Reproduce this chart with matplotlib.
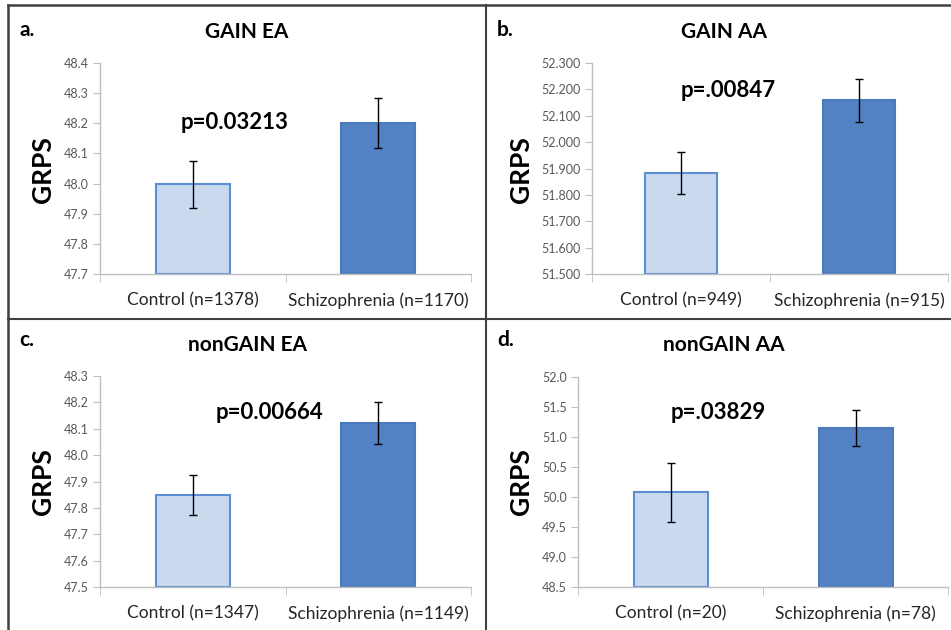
import matplotlib
matplotlib.use("Agg")
import matplotlib.pyplot as plt
from matplotlib.lines import Line2D

plt.rcParams['font.family'] = ['Lato', 'DejaVu Sans']

# -- Data --
panel_labels = ["a.", "b.", "c.", "d."]
titles = ["GAIN EA", "GAIN AA", "nonGAIN EA", "nonGAIN AA"]
control_n = [1378, 949, 1347, 20]
scz_n = [1170, 915, 1149, 78]
control_mean = [47.997, 51.883, 47.848, 50.08]
control_err = [0.077, 0.079, 0.075, 0.49]
scz_mean = [48.202, 52.158, 48.122, 51.15]
scz_err = [0.083, 0.083, 0.079, 0.30]
p_values = ["p=0.03213", "p=.00847", "p=0.00664", "p=.03829"]
y_min = [47.7, 51.5, 47.5, 48.5]
y_max = [48.4, 52.3, 48.3, 52.0]
y_step = [0.1, 0.1, 0.1, 0.5]
y_fmt = ["%.1f", "%.3f", "%.1f", "%.1f"]

# -- Layout (pixels) --
W, H = 951, 630
axes_px = [(100, 63, 471, 274), (592, 63, 948, 274),
           (100, 376, 471, 587), (578, 377, 948, 587)]
p_pos = [(0.364, 0.716), (0.382, 0.872), (0.458, 0.825), (0.378, 0.833)]
title_px = [(247, 32), (724, 32), (247, 345), (724, 345)]
label_px = [(19, 30), (497, 30), (19, 340), (497, 340)]
ylabel_px = [(43, 170), (521, 170), (43, 482), (521, 482)]

light_fill = "#C9D9EE"
light_edge = "#5B8ED4"
dark_fill = "#5282C4"
dark_edge = "#4A7BBD"
grid_gray = "#BFBFBF"

fig = plt.figure(figsize=(W / 100, H / 100), dpi=100)


def fx(x):
    return x / W


def fy(y):
    return 1 - y / H


for i in range(4):
    x0, y0, x1, y1 = axes_px[i]
    ax = fig.add_axes([fx(x0), fy(y1), (x1 - x0) / W, (y1 - y0) / H])
    ax.bar([0, 1], [control_mean[i] - y_min[i], scz_mean[i] - y_min[i]],
           bottom=y_min[i], width=0.4,
           color=[light_fill, dark_fill], edgecolor=[light_edge, dark_edge],
           linewidth=1.5, zorder=2)
    ax.errorbar([0, 1], [control_mean[i], scz_mean[i]],
                yerr=[control_err[i], scz_err[i]], fmt="none",
                ecolor="black", elinewidth=1, capsize=3, capthick=1, zorder=3)
    ax.set_xlim(-0.5, 1.5)
    ax.set_ylim(y_min[i], y_max[i])
    n_ticks = int(round((y_max[i] - y_min[i]) / y_step[i])) + 1
    yt = [y_min[i] + k * y_step[i] for k in range(n_ticks)]
    ax.set_yticks(yt)
    ax.set_yticklabels([y_fmt[i] % v for v in yt])
    ax.set_xticks([0, 1])
    ax.set_xticklabels(["Control (n=%d)" % control_n[i],
                        "Schizophrenia (n=%d)" % scz_n[i]])
    ax.set_xticks([-0.5, 0.5, 1.5], minor=True)
    ax.tick_params(axis="x", which="major", length=0, pad=13,
                   labelsize=12.5, labelcolor="#262626")
    ax.tick_params(axis="x", which="minor", length=6, color=grid_gray)
    ax.tick_params(axis="y", length=5, color=grid_gray, labelsize=9,
                   labelcolor="#595959", pad=3)
    for s in ["top", "right"]:
        ax.spines[s].set_visible(False)
    for s in ["left", "bottom"]:
        ax.spines[s].set_color(grid_gray)
        ax.spines[s].set_linewidth(1)
    ax.text(p_pos[i][0], p_pos[i][1], p_values[i], transform=ax.transAxes,
            ha="center", va="center", fontsize=16, fontweight="bold")

    fig.text(fx(title_px[i][0]), fy(title_px[i][1]), titles[i],
             ha="center", va="center", fontsize=15, fontweight="bold")
    fig.text(fx(label_px[i][0]), fy(label_px[i][1]), panel_labels[i],
             ha="left", va="center", fontsize=15, fontweight="bold")
    fig.text(fx(ylabel_px[i][0]), fy(ylabel_px[i][1]), "GRPS",
             ha="center", va="center", rotation=90, fontsize=19,
             fontweight="bold")

# -- Panel borders --
border = "#404040"
fig.add_artist(Line2D([fx(8), 1], [fy(5), fy(5)], color=border, lw=1.8))
fig.add_artist(Line2D([fx(8), fx(8)], [fy(5), 0], color=border, lw=1.8))
fig.add_artist(Line2D([fx(8), 1], [fy(319), fy(319)], color=border, lw=1.5))
fig.add_artist(Line2D([fx(486), fx(486)], [fy(5), 0], color=border, lw=1.5))

fig.savefig("out.png", dpi=100, facecolor="white")
